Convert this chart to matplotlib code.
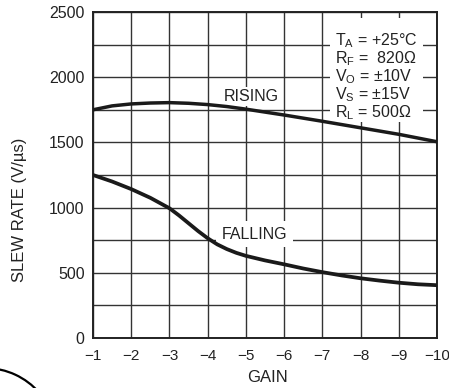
import numpy as np
import matplotlib
matplotlib.use("Agg")
import matplotlib.pyplot as plt
from matplotlib.patches import Arc, Rectangle

plt.rcParams['font.family'] = ['Liberation Sans', 'DejaVu Sans']
plt.rcParams['mathtext.fontset'] = 'custom'
plt.rcParams['mathtext.rm'] = 'Liberation Sans'

# slew rate vs closed-loop gain
gain_r = [-1, -1.5, -2, -2.5, -3, -3.5, -4, -4.5, -5, -6, -7, -8, -9, -10]
rising = [1750, 1780, 1795, 1802, 1805, 1800, 1790, 1775, 1755, 1710, 1662, 1612, 1562, 1505]

gain_f = [-1, -1.5, -2, -2.5, -3, -3.25, -3.5, -3.75, -4, -4.25, -4.5, -4.75,
          -5, -5.5, -6, -6.5, -7, -7.5, -8, -8.5, -9, -9.5, -10]
falling = [1250, 1200, 1142, 1075, 995, 940, 880, 820, 765, 718, 682, 653,
           630, 595, 565, 533, 505, 480, 458, 440, 424, 412, 405]

xticks = [-1, -2, -3, -4, -5, -6, -7, -8, -9, -10]
xlabels = ["\u22121", "\u22122", "\u22123", "\u22124", "\u22125",
           "\u22126", "\u22127", "\u22128", "\u22129", "\u221210"]
yticks = [0, 500, 1000, 1500, 2000, 2500]

conditions = [r"T$_\mathregular{A}$ = +25°C",
              r"R$_\mathregular{F}$ =  820Ω",
              r"V$_\mathregular{O}$ = ±10V",
              r"V$_\mathregular{S}$ = ±15V",
              r"R$_\mathregular{L}$ = 500Ω"]

W, H = 449, 388
fig = plt.figure(figsize=(W / 100, H / 100), dpi=100)
ax = fig.add_axes([93 / W, 1 - 338 / H, 344 / W, 326 / H])

ax.set_xlim(-1, -10)
ax.set_ylim(0, 2500)
ax.set_xticks(xticks)
ax.set_xticklabels(xlabels)
ax.set_yticks(yticks)
ax.set_yticks(np.arange(0, 2501, 250), minor=True)
ax.tick_params(which='both', length=0, labelsize=11.5, colors='#222')
ax.tick_params(axis='x', labelsize=11)
ax.tick_params(axis='y', pad=6)
ax.tick_params(axis='x', pad=8)
ax.grid(True, which='both', color='#333', lw=1.0)
for s in ax.spines.values():
    s.set_linewidth(1.4)
    s.set_color('#222')

ax.plot(gain_r, rising, color='#1a1a1a', lw=2.5, zorder=5,
        solid_joinstyle='round')
ax.plot(gain_f, falling, color='#1a1a1a', lw=2.7, zorder=5,
        solid_joinstyle='round')

# white panel behind the test conditions
ax.add_patch(Rectangle((-7.2, 1656), -2.44, 800, facecolor='white',
                       edgecolor='none', zorder=3))
for i, line in enumerate(conditions):
    fig.text(335 / W, 1 - (45 + 18 * i) / H, line, fontsize=11.5,
             va='baseline', ha='left', color='#222')

ax.text(-5.14, 1855, "RISING", fontsize=11.5, ha='center', va='center',
        color='#222', bbox=dict(facecolor='white', edgecolor='none', pad=1.5),
        zorder=4)
ax.text(-5.23, 797, "FALLING", fontsize=11.5, ha='center', va='center',
        color='#222', bbox=dict(facecolor='white', edgecolor='none', pad=4),
        zorder=4)

fig.text(20 / W, 178 / H, "SLEW RATE (V/\u00b5s)", rotation=90, fontsize=12,
         ha='center', va='center', color='#222')
fig.text(267 / W, 1 - 377 / H, "GAIN", fontsize=12, ha='center', va='center',
         color='#222')

# partial circle in the lower left corner
fig.add_artist(Arc((-15 / W, 1 - 440 / H), 144 / W, 144 / H, theta1=20,
                   theta2=110, transform=fig.transFigure, color='black',
                   lw=1.6))

fig.savefig("out.png", dpi=100)
